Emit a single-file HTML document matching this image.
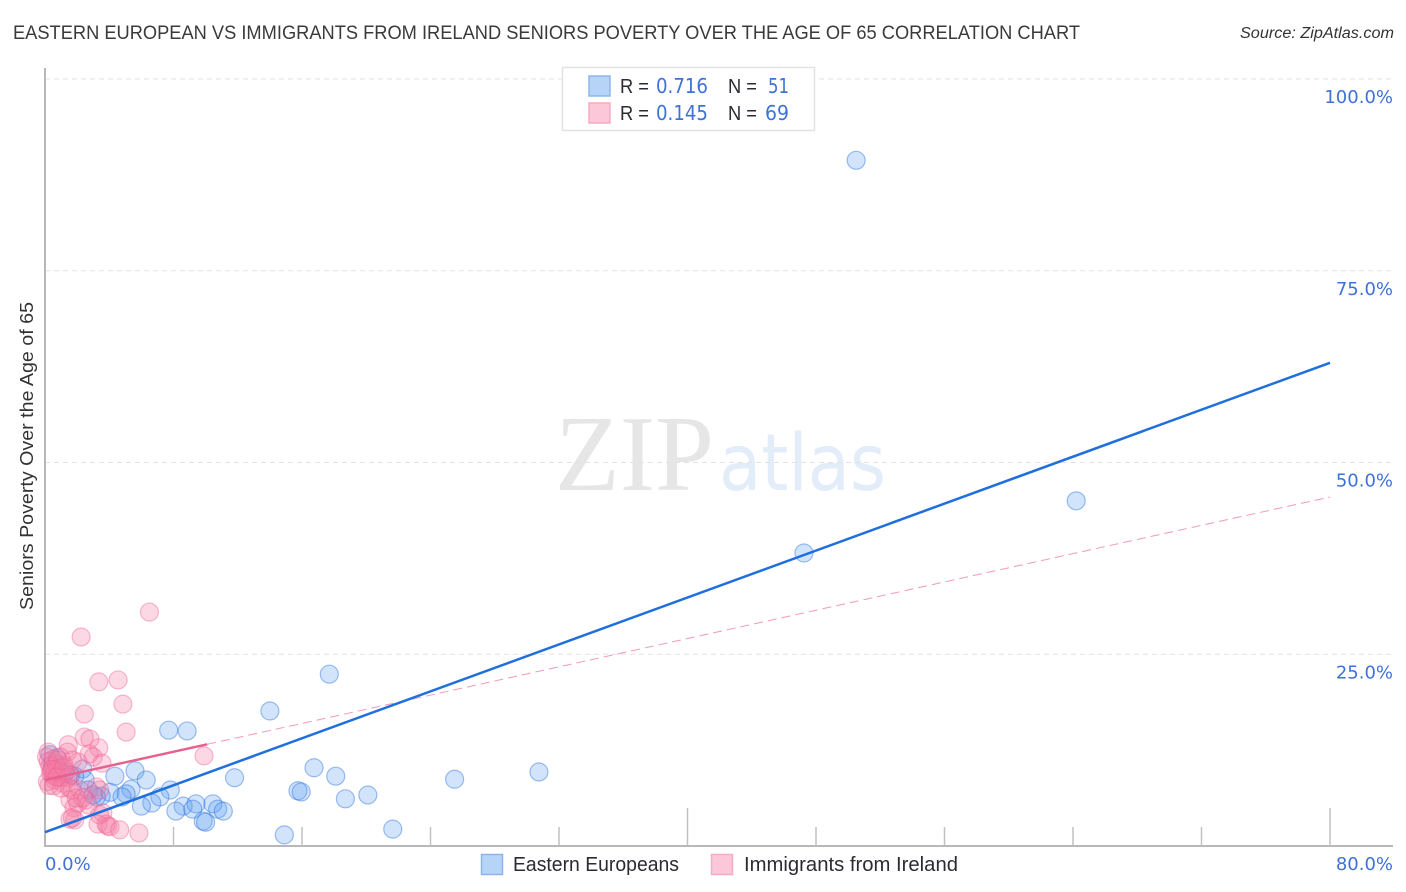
<!DOCTYPE html>
<html>
<head>
<meta charset="utf-8">
<title>Eastern European vs Immigrants from Ireland Seniors Poverty Correlation Chart</title>
<style>
html,body{margin:0;padding:0;background:#fff;width:1406px;height:892px;overflow:hidden}
svg{display:block}
text{font-family:"Liberation Sans",sans-serif}
.tick{font-family:"DejaVu Sans",sans-serif;font-size:18px;fill:#3f72d6}
.leg{font-size:20px;fill:#2b2b33}
.val{font-family:"DejaVu Sans",sans-serif;font-size:20px;fill:#3f72d6}
</style>
</head>
<body>
<svg id="chart" width="1406" height="892" viewBox="0 0 1406 892" xmlns="http://www.w3.org/2000/svg">
  <text x="13" y="39" font-size="19.5" fill="#3a3a3a" textLength="1067" lengthAdjust="spacingAndGlyphs">EASTERN EUROPEAN VS IMMIGRANTS FROM IRELAND SENIORS POVERTY OVER THE AGE OF 65 CORRELATION CHART</text>
  <text x="1394" y="38" font-size="15.5" font-style="italic" fill="#333" text-anchor="end" textLength="154" lengthAdjust="spacingAndGlyphs">Source: ZipAtlas.com</text>

  <g>
    <text x="555" y="490" style="font-family:'Liberation Serif',serif" font-size="108" fill="#e6e6e6" textLength="159" lengthAdjust="spacingAndGlyphs">ZIP</text>
    <text x="719" y="490" style="font-family:'DejaVu Sans',sans-serif" font-size="78" fill="#e3ecf9" textLength="167" lengthAdjust="spacingAndGlyphs">atlas</text>
  </g>

  <g id="grid"></g>
  <g id="axes"></g>
  <g id="blue-points"></g>
  <g id="pink-points"></g>
  <g id="lines"></g>
  <g id="labels"></g>

  <text transform="translate(33,456) rotate(-90)" font-size="18.5" fill="#333" text-anchor="middle" textLength="308" lengthAdjust="spacingAndGlyphs">Seniors Poverty Over the Age of 65</text>

  <g>
    <rect x="562.5" y="67.5" width="252" height="63" fill="#fff" stroke="#e2e2e2" stroke-width="1.5"/>
    <rect x="589" y="76" width="21" height="20" fill="#b6d3f8" stroke="#8fb5e8" stroke-width="1.5"/>
    <rect x="589" y="103" width="21" height="20" fill="#fcc8d9" stroke="#f5abc3" stroke-width="1.5"/>
    <text class="leg" x="620" y="93" textLength="29" lengthAdjust="spacingAndGlyphs">R =</text>
    <text class="val" x="656" y="93" textLength="52" lengthAdjust="spacingAndGlyphs">0.716</text>
    <text class="leg" x="728" y="93" textLength="29" lengthAdjust="spacingAndGlyphs">N =</text>
    <text class="val" x="768" y="93" textLength="21" lengthAdjust="spacingAndGlyphs">51</text>
    <text class="leg" x="620" y="120" textLength="29" lengthAdjust="spacingAndGlyphs">R =</text>
    <text class="val" x="656" y="120" textLength="52" lengthAdjust="spacingAndGlyphs">0.145</text>
    <text class="leg" x="728" y="120" textLength="29" lengthAdjust="spacingAndGlyphs">N =</text>
    <text class="val" x="765" y="120" textLength="24" lengthAdjust="spacingAndGlyphs">69</text>
  </g>

  <g>
    <g>
      <rect x="481.5" y="854.5" width="21" height="20" fill="#b6d3f8" stroke="#8fb5e8" stroke-width="1.5"/>
      <text class="leg" x="513" y="871" textLength="166" lengthAdjust="spacingAndGlyphs">Eastern Europeans</text>
    </g>
    <g>
      <rect x="711.5" y="854.5" width="21" height="20" fill="#fcc8d9" stroke="#f5abc3" stroke-width="1.5"/>
      <text class="leg" x="744" y="871" textLength="214" lengthAdjust="spacingAndGlyphs">Immigrants from Ireland</text>
    </g>
  </g>
</svg>
<script>
const yTicks = [25, 50, 75, 100];
const yTickLabels = ["25.0%", "50.0%", "75.0%", "100.0%"];
const xTicks = [8, 16, 24, 32, 40, 48, 56, 64, 72, 80];
const xTallTicks = [40, 80];
const xEndLabels = ["0.0%", "80.0%"];

const blueX = [50.5,64.2,47.25,17.7,14.0,7.7,8.85,16.75,18.1,25.5,30.75,11.8,5.6,4.35,6.3,7.8,5.35,4.05,5.05,4.8,3.5,3.2,7.15,6.65,6.0,8.6,8.15,9.4,9.2,10.45,10.75,11.1,9.85,10.0,15.75,15.95,18.7,20.1,14.9,21.65,2.35,2.5,1.85,1.55,0.3,0.75,1.2,2.7,3.0,0.95,0.45];
const blueY = [89.4,45.0,38.2,22.4,17.6,15.1,15.0,10.2,9.1,8.7,9.65,8.9,9.8,9.1,8.6,7.3,7.4,7.0,6.8,6.4,6.5,6.4,6.4,5.6,5.2,5.2,4.55,5.5,4.8,5.5,4.8,4.55,3.25,3.1,7.2,7.05,6.15,6.65,1.45,2.2,10.05,8.6,9.1,9.25,11.9,11.5,9.5,7.3,6.65,9.9,10.55];

const pinkX = [6.5,2.25,4.55,3.35,2.45,4.85,5.05,2.45,2.8,3.35,9.9,1.45,1.4,0.95,3.0,2.75,3.55,1.7,2.05,0.2,0.1,0.2,0.3,0.4,0.5,0.6,0.7,0.8,0.9,1.0,1.1,0.15,0.25,1.2,1.3,1.4,0.5,0.8,0.35,0.65,1.6,1.5,1.55,2.2,1.7,1.0,0.55,3.2,2.55,2.05,1.8,2.7,2.35,1.95,3.4,3.6,3.4,1.55,1.85,1.7,3.3,3.8,3.9,4.05,4.65,5.85,0.45,0.75,1.15];
const pinkY = [30.5,27.25,21.65,21.4,17.2,18.5,14.85,14.2,13.95,12.8,11.75,13.2,12.25,11.6,11.6,12.0,10.8,11.2,10.95,12.25,11.6,11.0,10.4,9.8,9.2,8.6,10.7,10.1,9.5,8.9,8.2,8.4,7.9,10.5,9.7,8.9,11.3,11.2,9.5,9.8,9.2,7.6,6.0,7.3,7.3,7.55,7.85,7.7,6.0,5.6,5.0,5.35,6.25,6.25,7.3,4.3,4.05,3.5,3.4,3.65,2.85,2.85,2.6,2.5,2.1,1.7,10.0,9.0,10.2];

const blueLineX = [0, 80];
const blueLineY = [1.8, 63.0];
const pinkSolidX = [0, 10.1];
const pinkDashX = [10.1, 80];
const pinkTrendStart = 8.6;
const pinkTrendEnd = 45.5;

const NS = "http://www.w3.org/2000/svg";
const sx = v => 45 + v * (1285 / 80);
const sy = v => 846 - v * 7.67;
const pinkAt = v => pinkTrendStart + (pinkTrendEnd - pinkTrendStart) * v / 80;
const make = (tag, parent, attrs) => {
  const el = document.createElementNS(NS, tag);
  for (const k in attrs) el.setAttribute(k, attrs[k]);
  document.getElementById(parent).appendChild(el);
  return el;
};

yTicks.forEach((t, i) => {
  const g = make("line", "grid", {x1: 45, x2: 1393, y1: sy(t), y2: sy(t), stroke: "#e2e2e2", "stroke-width": 1, "stroke-dasharray": "5 4"});
  
  
  const l = make("text", "labels", {x: 1393, y: sy(t) + 24, "text-anchor": "end", class: "tick"});
  l.textContent = yTickLabels[i];
  
  
});

const yAxis = make("line", "axes", {x1: 45, x2: 45, y1: 68, y2: 847, stroke: "#b8b8b8", "stroke-width": 2});


const xAxis = make("line", "axes", {x1: 44, x2: 1393, y1: 846, y2: 846, stroke: "#b8b8b8", "stroke-width": 2});


xTicks.forEach(t => {
  const tall = xTallTicks.includes(t);
  const tk = make("line", "axes", {x1: sx(t), x2: sx(t), y1: tall ? 808 : 827, y2: 846, stroke: "#c0c0c0", "stroke-width": 1.5});
  
  
});

const x0 = make("text", "labels", {x: 45, y: 870, class: "tick"});
x0.textContent = xEndLabels[0];


const x1 = make("text", "labels", {x: 1393, y: 870, "text-anchor": "end", class: "tick"});
x1.textContent = xEndLabels[1];



blueX.forEach((v, i) => {
  const c = make("circle", "blue-points", {cx: sx(v), cy: sy(blueY[i]), r: 9, fill: "rgba(90,155,240,0.27)", stroke: "rgba(45,115,220,0.45)", "stroke-width": 1.2});
  
  
});
pinkX.forEach((v, i) => {
  const c = make("circle", "pink-points", {cx: sx(v), cy: sy(pinkY[i]), r: 9, fill: "rgba(245,125,165,0.3)", stroke: "rgba(238,95,145,0.42)", "stroke-width": 1.2});
  
  
});

const pd = make("line", "lines", {x1: sx(pinkDashX[0]), y1: sy(pinkAt(pinkDashX[0])), x2: sx(pinkDashX[1]), y2: sy(pinkAt(pinkDashX[1])), stroke: "#f09ab8", "stroke-width": 1, "stroke-dasharray": "9 5"});


const ps = make("line", "lines", {x1: sx(pinkSolidX[0]), y1: sy(pinkAt(pinkSolidX[0])), x2: sx(pinkSolidX[1]), y2: sy(pinkAt(pinkSolidX[1])), stroke: "#e8608f", "stroke-width": 2.5});


const bl = make("line", "lines", {x1: sx(blueLineX[0]), y1: sy(blueLineY[0]), x2: sx(blueLineX[1]), y2: sy(blueLineY[1]), stroke: "#1f6fdc", "stroke-width": 2.5});


</script>
</body>
</html>
